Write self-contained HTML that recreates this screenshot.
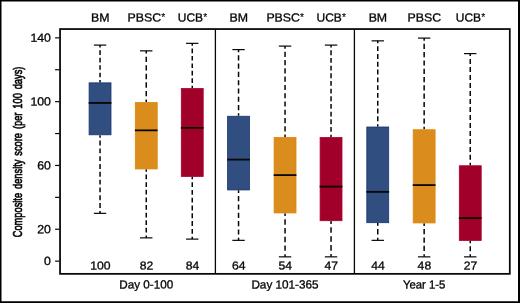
<!DOCTYPE html>
<html><head><meta charset="utf-8"><title>Composite density score</title>
<style>
html,body{margin:0;padding:0;background:#fff;}
svg{display:block;will-change:transform;}
text{font-family:"Liberation Sans",sans-serif;fill:#050505;stroke:#050505;stroke-width:0.32px;}
</style></head><body>
<svg width="520" height="303" viewBox="0 0 520 303">
<rect x="0" y="0" width="520" height="303" fill="#fff"/>
<path d="M0 0H520V303H0Z M1.5 1.5V301.2H518V1.5Z" fill="#000" fill-rule="evenodd"/>

<line x1="100.05" y1="45.1" x2="100.05" y2="82.45" stroke="#060606" stroke-width="1.5" stroke-dasharray="4.669 2.801" stroke-dashoffset="2.334"/>
<line x1="100.05" y1="135.2" x2="100.05" y2="213.35" stroke="#060606" stroke-width="1.5" stroke-dasharray="4.884 2.931" stroke-dashoffset="2.442"/>
<line x1="93.85" y1="45.1" x2="106.25" y2="45.1" stroke="#060606" stroke-width="1.2"/>
<line x1="93.85" y1="213.35" x2="106.25" y2="213.35" stroke="#060606" stroke-width="1.2"/>
<rect x="89.1" y="82.85" width="21.9" height="51.95" fill="#314e80" stroke="#183472" stroke-width="0.8"/>
<line x1="88.7" y1="102.95" x2="111.4" y2="102.95" stroke="#060606" stroke-width="1.8"/>
<line x1="146.25" y1="50.85" x2="146.25" y2="102.1" stroke="#060606" stroke-width="1.5" stroke-dasharray="5.339 3.203" stroke-dashoffset="2.67"/>
<line x1="146.25" y1="169.35" x2="146.25" y2="237.85" stroke="#060606" stroke-width="1.5" stroke-dasharray="4.757 2.854" stroke-dashoffset="2.378"/>
<line x1="140.05" y1="50.85" x2="152.45" y2="50.85" stroke="#060606" stroke-width="1.2"/>
<line x1="140.05" y1="237.85" x2="152.45" y2="237.85" stroke="#060606" stroke-width="1.2"/>
<rect x="135.3" y="102.5" width="21.9" height="66.45" fill="#da8d1d" stroke="#dd8609" stroke-width="0.8"/>
<line x1="134.9" y1="130.35" x2="157.6" y2="130.35" stroke="#060606" stroke-width="1.8"/>
<line x1="192.25" y1="43.35" x2="192.25" y2="88.1" stroke="#060606" stroke-width="1.5" stroke-dasharray="4.661 2.797" stroke-dashoffset="2.33"/>
<line x1="192.25" y1="176.85" x2="192.25" y2="239.1" stroke="#060606" stroke-width="1.5" stroke-dasharray="4.863 2.918" stroke-dashoffset="2.432"/>
<line x1="186.05" y1="43.35" x2="198.45" y2="43.35" stroke="#060606" stroke-width="1.2"/>
<line x1="186.05" y1="239.1" x2="198.45" y2="239.1" stroke="#060606" stroke-width="1.2"/>
<rect x="181.3" y="88.5" width="21.9" height="87.95" fill="#a1002b" stroke="#aa0028" stroke-width="0.8"/>
<line x1="180.9" y1="127.85" x2="203.6" y2="127.85" stroke="#060606" stroke-width="1.8"/>
<line x1="238.55" y1="49.6" x2="238.55" y2="115.85" stroke="#060606" stroke-width="1.5" stroke-dasharray="5.176 3.105" stroke-dashoffset="2.588"/>
<line x1="238.55" y1="190.35" x2="238.55" y2="240.35" stroke="#060606" stroke-width="1.5" stroke-dasharray="5.208 3.125" stroke-dashoffset="2.604"/>
<line x1="232.35" y1="49.6" x2="244.75" y2="49.6" stroke="#060606" stroke-width="1.2"/>
<line x1="232.35" y1="240.35" x2="244.75" y2="240.35" stroke="#060606" stroke-width="1.2"/>
<rect x="227.6" y="116.25" width="21.9" height="73.7" fill="#314e80" stroke="#183472" stroke-width="0.8"/>
<line x1="227.2" y1="159.6" x2="249.9" y2="159.6" stroke="#060606" stroke-width="1.8"/>
<line x1="285.05" y1="46.1" x2="285.05" y2="137.1" stroke="#060606" stroke-width="1.5" stroke-dasharray="5.17 3.102" stroke-dashoffset="2.585"/>
<line x1="285.05" y1="213.35" x2="285.05" y2="256.85" stroke="#060606" stroke-width="1.5" stroke-dasharray="5.438 3.263" stroke-dashoffset="2.719"/>
<line x1="278.85" y1="46.1" x2="291.25" y2="46.1" stroke="#060606" stroke-width="1.2"/>
<line x1="278.85" y1="256.85" x2="291.25" y2="256.85" stroke="#060606" stroke-width="1.2"/>
<rect x="274.1" y="137.5" width="21.9" height="75.45" fill="#da8d1d" stroke="#dd8609" stroke-width="0.8"/>
<line x1="273.7" y1="175.1" x2="296.4" y2="175.1" stroke="#060606" stroke-width="1.8"/>
<line x1="331.05" y1="45.1" x2="331.05" y2="137.1" stroke="#060606" stroke-width="1.5" stroke-dasharray="4.792 2.875" stroke-dashoffset="2.396"/>
<line x1="331.05" y1="221.1" x2="331.05" y2="256.85" stroke="#060606" stroke-width="1.5" stroke-dasharray="5.586 3.352" stroke-dashoffset="2.793"/>
<line x1="324.85" y1="45.1" x2="337.25" y2="45.1" stroke="#060606" stroke-width="1.2"/>
<line x1="324.85" y1="256.85" x2="337.25" y2="256.85" stroke="#060606" stroke-width="1.2"/>
<rect x="320.1" y="137.5" width="21.9" height="83.2" fill="#a1002b" stroke="#aa0028" stroke-width="0.8"/>
<line x1="319.7" y1="186.6" x2="342.4" y2="186.6" stroke="#060606" stroke-width="1.8"/>
<line x1="377.75" y1="40.85" x2="377.75" y2="126.6" stroke="#060606" stroke-width="1.5" stroke-dasharray="4.872 2.923" stroke-dashoffset="2.436"/>
<line x1="377.75" y1="223.1" x2="377.75" y2="240.35" stroke="#060606" stroke-width="1.5" stroke-dasharray="5.391 3.234" stroke-dashoffset="2.696"/>
<line x1="371.55" y1="40.85" x2="383.95" y2="40.85" stroke="#060606" stroke-width="1.2"/>
<line x1="371.55" y1="240.35" x2="383.95" y2="240.35" stroke="#060606" stroke-width="1.2"/>
<rect x="366.8" y="127.0" width="21.9" height="95.7" fill="#314e80" stroke="#183472" stroke-width="0.8"/>
<line x1="366.4" y1="191.85" x2="389.1" y2="191.85" stroke="#060606" stroke-width="1.8"/>
<line x1="424.15" y1="38.1" x2="424.15" y2="129.35" stroke="#060606" stroke-width="1.5" stroke-dasharray="5.185 3.111" stroke-dashoffset="2.592"/>
<line x1="424.15" y1="223.35" x2="424.15" y2="256.85" stroke="#060606" stroke-width="1.5" stroke-dasharray="5.234 3.141" stroke-dashoffset="2.617"/>
<line x1="417.95" y1="38.1" x2="430.35" y2="38.1" stroke="#060606" stroke-width="1.2"/>
<line x1="417.95" y1="256.85" x2="430.35" y2="256.85" stroke="#060606" stroke-width="1.2"/>
<rect x="413.2" y="129.75" width="21.9" height="93.2" fill="#da8d1d" stroke="#dd8609" stroke-width="0.8"/>
<line x1="412.8" y1="185.1" x2="435.5" y2="185.1" stroke="#060606" stroke-width="1.8"/>
<line x1="470.25" y1="53.6" x2="470.25" y2="165.35" stroke="#060606" stroke-width="1.5" stroke-dasharray="4.989 2.993" stroke-dashoffset="2.494"/>
<line x1="470.25" y1="240.85" x2="470.25" y2="256.85" stroke="#060606" stroke-width="1.5" stroke-dasharray="5.0 3.0" stroke-dashoffset="2.5"/>
<line x1="464.05" y1="53.6" x2="476.45" y2="53.6" stroke="#060606" stroke-width="1.2"/>
<line x1="464.05" y1="256.85" x2="476.45" y2="256.85" stroke="#060606" stroke-width="1.2"/>
<rect x="459.3" y="165.75" width="21.9" height="74.7" fill="#a1002b" stroke="#aa0028" stroke-width="0.8"/>
<line x1="458.9" y1="218.1" x2="481.6" y2="218.1" stroke="#060606" stroke-width="1.8"/>
<rect x="60.05" y="29.05" width="449.75" height="244.8" fill="none" stroke="#060606" stroke-width="1.75"/>
<line x1="215.4" y1="29" x2="215.4" y2="273.8" stroke="#060606" stroke-width="1.3"/>
<line x1="354.4" y1="29" x2="354.4" y2="273.8" stroke="#060606" stroke-width="1.3"/>
<line x1="55.1" y1="261.15" x2="59.6" y2="261.15" stroke="#060606" stroke-width="1.2"/>
<line x1="55.1" y1="229.25" x2="59.6" y2="229.25" stroke="#060606" stroke-width="1.2"/>
<line x1="55.1" y1="197.35" x2="59.6" y2="197.35" stroke="#060606" stroke-width="1.2"/>
<line x1="55.1" y1="165.45" x2="59.6" y2="165.45" stroke="#060606" stroke-width="1.2"/>
<line x1="55.1" y1="133.55" x2="59.6" y2="133.55" stroke="#060606" stroke-width="1.2"/>
<line x1="55.1" y1="101.65" x2="59.6" y2="101.65" stroke="#060606" stroke-width="1.2"/>
<line x1="55.1" y1="69.75" x2="59.6" y2="69.75" stroke="#060606" stroke-width="1.2"/>
<line x1="55.1" y1="37.85" x2="59.6" y2="37.85" stroke="#060606" stroke-width="1.2"/>
<text transform="translate(50.9,265.1) rotate(0.03) scale(1,0.96)" font-size="12.3" text-anchor="end">0</text>
<text transform="translate(50.9,233.2) rotate(0.03) scale(1,0.96)" font-size="12.3" text-anchor="end">20</text>
<text transform="translate(50.9,169.4) rotate(0.03) scale(1,0.96)" font-size="12.3" text-anchor="end">60</text>
<text transform="translate(50.9,105.6) rotate(0.03) scale(1,0.96)" font-size="12.3" text-anchor="end">100</text>
<text transform="translate(50.9,41.8) rotate(0.03) scale(1,0.96)" font-size="12.3" text-anchor="end">140</text>
<text transform="translate(100.3,269.45) rotate(0.03) scale(1,0.95)" font-size="12.2" text-anchor="middle">100</text>
<text transform="translate(90.94,21.5) rotate(0.03) scale(1,0.947)" font-size="12.35" text-anchor="start">BM</text>
<text transform="translate(146.5,269.45) rotate(0.03) scale(1,0.95)" font-size="12.2" text-anchor="middle">82</text>
<text transform="translate(127.59,21.5) rotate(0.03) scale(1,0.947)" font-size="12.35" text-anchor="start">PBSC</text>
<text x="161.32" y="20.75" font-size="10.3" style="stroke-width:0.12px">*</text>
<text transform="translate(192.5,269.45) rotate(0.03) scale(1,0.95)" font-size="12.2" text-anchor="middle">84</text>
<text transform="translate(177.73,21.5) rotate(0.03) scale(1,0.975)" font-size="12.0" text-anchor="start">UCB</text>
<text x="203.16" y="20.75" font-size="10.3" style="stroke-width:0.12px">*</text>
<text transform="translate(238.8,269.45) rotate(0.03) scale(1,0.95)" font-size="12.2" text-anchor="middle">64</text>
<text transform="translate(229.44,21.5) rotate(0.03) scale(1,0.947)" font-size="12.35" text-anchor="start">BM</text>
<text transform="translate(285.3,269.45) rotate(0.03) scale(1,0.95)" font-size="12.2" text-anchor="middle">54</text>
<text transform="translate(266.39,21.5) rotate(0.03) scale(1,0.947)" font-size="12.35" text-anchor="start">PBSC</text>
<text x="300.12" y="20.75" font-size="10.3" style="stroke-width:0.12px">*</text>
<text transform="translate(331.3,269.45) rotate(0.03) scale(1,0.95)" font-size="12.2" text-anchor="middle">47</text>
<text transform="translate(316.53,21.5) rotate(0.03) scale(1,0.975)" font-size="12.0" text-anchor="start">UCB</text>
<text x="341.96" y="20.75" font-size="10.3" style="stroke-width:0.12px">*</text>
<text transform="translate(378.0,269.45) rotate(0.03) scale(1,0.95)" font-size="12.2" text-anchor="middle">44</text>
<text transform="translate(368.64,21.5) rotate(0.03) scale(1,0.947)" font-size="12.35" text-anchor="start">BM</text>
<text transform="translate(424.4,269.45) rotate(0.03) scale(1,0.95)" font-size="12.2" text-anchor="middle">48</text>
<text transform="translate(407.49,21.5) rotate(0.03) scale(1,0.947)" font-size="12.35" text-anchor="start">PBSC</text>
<text transform="translate(470.5,269.45) rotate(0.03) scale(1,0.95)" font-size="12.2" text-anchor="middle">27</text>
<text transform="translate(455.73,21.5) rotate(0.03) scale(1,0.975)" font-size="12.0" text-anchor="start">UCB</text>
<text x="481.16" y="20.75" font-size="10.3" style="stroke-width:0.12px">*</text>
<text transform="translate(146.2,288.6) rotate(0.03) scale(1,1.009)" font-size="11.7" text-anchor="middle">Day 0-100</text>
<text transform="translate(285,288.6) rotate(0.03) scale(1,1.004)" font-size="11.75" text-anchor="middle">Day 101-365</text>
<text transform="translate(424.1,288.6) rotate(0.03) scale(1,1.04)" font-size="11.35" text-anchor="middle">Year 1-5</text>
<text transform="translate(22.25,237.3) rotate(-90) scale(0.695,1)" font-size="13.4" word-spacing="1.85" style="stroke-width:0.6px" vector-effect="non-scaling-stroke">Composite density score (per 100 days)</text>
</svg></body></html>
